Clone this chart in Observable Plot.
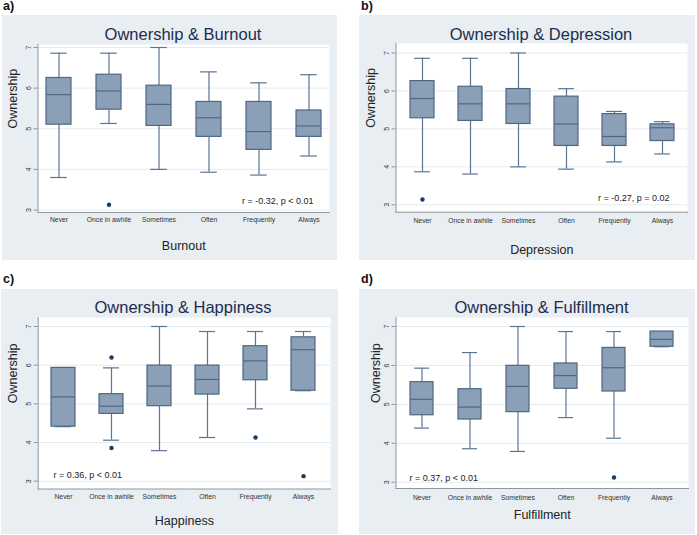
<!DOCTYPE html>
<html><head><meta charset="utf-8">
<script src="https://cdn.jsdelivr.net/npm/d3@7"></script>
<script src="https://cdn.jsdelivr.net/npm/@observablehq/plot@0.6"></script>
<style>
body{margin:0;background:#fff;font-family:"Liberation Sans",Arial,Helvetica,sans-serif;}
#root{position:relative;width:697px;height:535px;overflow:hidden;background:#fff;}
.panel{position:absolute;background:#e8eef2;}
.panel svg{display:block;}
.tag{position:absolute;font-weight:bold;font-size:12.5px;line-height:1;color:#111;}
.ttl{position:absolute;font-size:16.5px;line-height:1;color:#1e2c4f;white-space:nowrap;transform:translateX(-50%);}
</style></head><body><div id="root"></div>
<script>
// ---------- data ----------
const categories = ["Never", "Once in awhile", "Sometimes", "Often", "Frequently", "Always"];
const panelTags = ["a)", "b)", "c)", "d)"];
const titles = ["Ownership & Burnout", "Ownership & Depression", "Ownership & Happiness", "Ownership & Fulfillment"];
const xTitles = ["Burnout", "Depression", "Happiness", "Fulfillment"];
const yTitle = "Ownership";
const yTicks = [3, 4, 5, 6, 7];
const statLabels = ["r = -0.32, p < 0.01", "r = -0.27, p = 0.02", "r = 0.36, p < 0.01", "r = 0.37, p < 0.01"];

// Burnout
const burnoutLow    = [3.80, 5.13, 4.00, 3.93, 3.86, 4.33];
const burnoutQ1     = [5.10, 5.47, 5.07, 4.80, 4.48, 4.80];
const burnoutMedian = [5.84, 5.93, 5.60, 5.27, 4.93, 5.07];
const burnoutQ3     = [6.25, 6.33, 6.06, 5.66, 5.66, 5.45];
const burnoutHigh   = [6.86, 6.86, 7.00, 6.40, 6.13, 6.33];
const burnoutOutlierCats = ["Once in awhile"];
const burnoutOutlierVals = [3.13];

// Depression
const depressionLow    = [3.87, 3.81, 4.00, 3.94, 4.13, 4.34];
const depressionQ1     = [5.28, 5.21, 5.13, 4.55, 4.55, 4.68];
const depressionMedian = [5.80, 5.66, 5.66, 5.13, 4.80, 5.03];
const depressionQ3     = [6.26, 6.11, 6.05, 5.85, 5.39, 5.12];
const depressionHigh   = [6.86, 6.86, 7.00, 6.06, 5.46, 5.19];
const depressionOutlierCats = ["Never"];
const depressionOutlierVals = [3.14];

// Happiness
const happinessLow    = [4.41, 4.06, 3.79, 4.13, 4.87, 5.34];
const happinessQ1     = [4.41, 4.74, 4.94, 5.24, 5.61, 5.34];
const happinessMedian = [5.18, 4.94, 5.46, 5.63, 6.11, 6.40];
const happinessQ3     = [5.93, 5.25, 5.99, 5.99, 6.49, 6.72];
const happinessHigh   = [5.93, 5.93, 7.00, 6.87, 6.87, 6.87];
const happinessOutlierCats = ["Once in awhile", "Once in awhile", "Frequently", "Always"];
const happinessOutlierVals = [6.20, 3.86, 4.13, 3.13];

// Fulfillment
const fulfillmentLow    = [4.39, 3.86, 3.79, 4.66, 4.13, 6.48];
const fulfillmentQ1     = [4.72, 4.61, 4.80, 5.40, 5.33, 6.48];
const fulfillmentMedian = [5.13, 4.93, 5.46, 5.74, 5.94, 6.67];
const fulfillmentQ3     = [5.57, 5.39, 5.99, 6.05, 6.45, 6.87];
const fulfillmentHigh   = [5.93, 6.33, 7.00, 6.87, 6.87, 6.87];
const fulfillmentOutlierCats = ["Frequently"];
const fulfillmentOutlierVals = [3.12];

// ---------- layout (page pixels) ----------
const layouts = [
  {bg:{l:2, t:15, w:335, h:245}, plot:{l:37.5, r:329, t:44, b:212}, y7:47, y3:209.5, first:58.2, last:308.3, bw:24.7,
   title:{x:183, base:40}, tag:{x:3, base:11}, xt:37.3, yt:-25.5, tickPad:5, stat:{anchor:"bottom-right", dx:-16, dy:-8.5}},
  {bg:{l:359, t:15, w:336, h:245}, plot:{l:395.5, r:687, t:43, b:211.7}, y7:52.5, y3:204.3, first:421.3, last:661.8, bw:24,
   title:{x:541, base:39.5}, tag:{x:361, base:11}, xt:41.9, yt:-25.5, tickPad:5.5, stat:{anchor:"bottom-right", dx:-18, dy:-11.2}},
  {bg:{l:1, t:289, w:337, h:245}, plot:{l:37.7, r:330, t:317, b:488.5}, y7:326, y3:480.7, first:62.8, last:303.3, bw:23.7,
   title:{x:183, base:313}, tag:{x:3, base:284}, xt:36, yt:-25.5, tickPad:5, stat:{anchor:"bottom-left", dx:15.3, dy:-11.5}},
  {bg:{l:359, t:289, w:336, h:245}, plot:{l:395.5, r:688, t:317, b:488}, y7:326, y3:481.7, first:421.7, last:661.8, bw:23.5,
   title:{x:541.5, base:313}, tag:{x:361, base:284}, xt:30.3, yt:-20.5, tickPad:6.5, stat:{anchor:"bottom-left", dx:13.5, dy:-8}}
];

const series = [
  [burnoutLow, burnoutQ1, burnoutMedian, burnoutQ3, burnoutHigh, burnoutOutlierCats, burnoutOutlierVals],
  [depressionLow, depressionQ1, depressionMedian, depressionQ3, depressionHigh, depressionOutlierCats, depressionOutlierVals],
  [happinessLow, happinessQ1, happinessMedian, happinessQ3, happinessHigh, happinessOutlierCats, happinessOutlierVals],
  [fulfillmentLow, fulfillmentQ1, fulfillmentMedian, fulfillmentQ3, fulfillmentHigh, fulfillmentOutlierCats, fulfillmentOutlierVals]
];

// ---------- styles ----------
const boxFill = "#8ba0b7";
const boxStroke = "#4d6787";
const whiskerStroke = "#5b7493";
const dotFill = "#1c3a63";
const axisColor = "#8e979f";
const gridColor = "#e4ebf0";
const font = "'Liberation Sans', Arial, Helvetica, sans-serif";

const root = document.getElementById("root");

layouts.forEach((L, p) => {
  const [lo, q1, med, q3, hi, oc, ov] = series[p];
  const rows = categories.map((c, i) => ({cat: c, lo: lo[i], q1: q1[i], med: med[i], q3: q3[i], hi: hi[i]}));
  const outs = oc.map((c, i) => ({cat: c, v: ov[i]}));

  const step = (L.last - L.first) / (categories.length - 1);
  const capInset = L.bw * 0.17;

  const panel = document.createElement("div");
  panel.className = "panel";
  Object.assign(panel.style, {left: L.bg.l + "px", top: L.bg.t + "px", width: L.bg.w + "px", height: L.bg.h + "px"});

  const chart = Plot.plot({
    width: L.bg.w,
    height: L.bg.h,
    marginLeft: L.plot.l - L.bg.l,
    marginRight: L.bg.l + L.bg.w - L.plot.r,
    marginTop: L.plot.t - L.bg.t,
    marginBottom: L.bg.t + L.bg.h - L.plot.b,
    insetTop: L.y7 - L.plot.t,
    insetBottom: L.plot.b - L.y3,
    insetLeft: L.first - L.bw / 2 - L.plot.l,
    insetRight: L.plot.r - (L.last + L.bw / 2),
    style: {background: "transparent", fontFamily: font, color: "#222", overflow: "visible"},
    x: {type: "band", domain: categories, paddingInner: 1 - L.bw / step, paddingOuter: 0, align: 0.5},
    y: {domain: [3, 7]},
    marks: [
      Plot.frame({fill: "white", stroke: null}),
      Plot.gridY(yTicks, {stroke: gridColor, strokeOpacity: 1, strokeWidth: 1}),
      Plot.frame({anchor: "left", stroke: axisColor, strokeWidth: 1}),
      Plot.frame({anchor: "bottom", stroke: axisColor, strokeWidth: 1}),
      Plot.axisY(yTicks, {tickSize: 4, tickPadding: 3, tickRotate: -90, fontSize: 7, stroke: axisColor, fill: "#333", label: null}),
      Plot.axisX({tickSize: 0, tickPadding: L.tickPad, fontSize: 6.8, fill: "#333", label: null}),
      Plot.text([yTitle], {frameAnchor: "left", rotate: -90, dx: L.yt, fontSize: 12.5, fill: "#222", lineAnchor: "middle"}),
      Plot.text([xTitles[p]], {frameAnchor: "bottom", dy: L.xt, lineAnchor: "bottom", fontSize: 12.5, fill: "#222"}),
      Plot.ruleX(rows, {x: "cat", y1: "lo", y2: "q1", stroke: whiskerStroke, strokeWidth: 1.2}),
      Plot.ruleX(rows, {x: "cat", y1: "q3", y2: "hi", stroke: whiskerStroke, strokeWidth: 1.2}),
      Plot.tickY(rows, {x: "cat", y: "lo", stroke: whiskerStroke, strokeWidth: 1.2, insetLeft: capInset, insetRight: capInset}),
      Plot.tickY(rows, {x: "cat", y: "hi", stroke: whiskerStroke, strokeWidth: 1.2, insetLeft: capInset, insetRight: capInset}),
      Plot.barY(rows, {x: "cat", y1: "q1", y2: "q3", fill: boxFill, stroke: boxStroke, strokeWidth: 1.2}),
      Plot.tickY(rows, {x: "cat", y: "med", stroke: boxStroke, strokeWidth: 1.2}),
      Plot.dot(outs, {x: "cat", y: "v", r: 2.2, fill: dotFill, stroke: null}),
      Plot.text([statLabels[p]], {frameAnchor: L.stat.anchor, dx: L.stat.dx, dy: L.stat.dy, lineAnchor: "bottom",
        textAnchor: L.stat.anchor === "bottom-right" ? "end" : "start", fontSize: 9, fill: "#222"})
    ]
  });
  panel.appendChild(chart);
  root.appendChild(panel);

  const t = document.createElement("div");
  t.className = "ttl";
  t.textContent = titles[p];
  Object.assign(t.style, {left: L.title.x + "px", top: (L.title.base - 0.8465 * 16.5) + "px"});
  root.appendChild(t);

  const g = document.createElement("div");
  g.className = "tag";
  g.textContent = panelTags[p];
  Object.assign(g.style, {left: L.tag.x + "px", top: (L.tag.base - 0.8465 * 12.5) + "px"});
  root.appendChild(g);
});
</script>
</body></html>
